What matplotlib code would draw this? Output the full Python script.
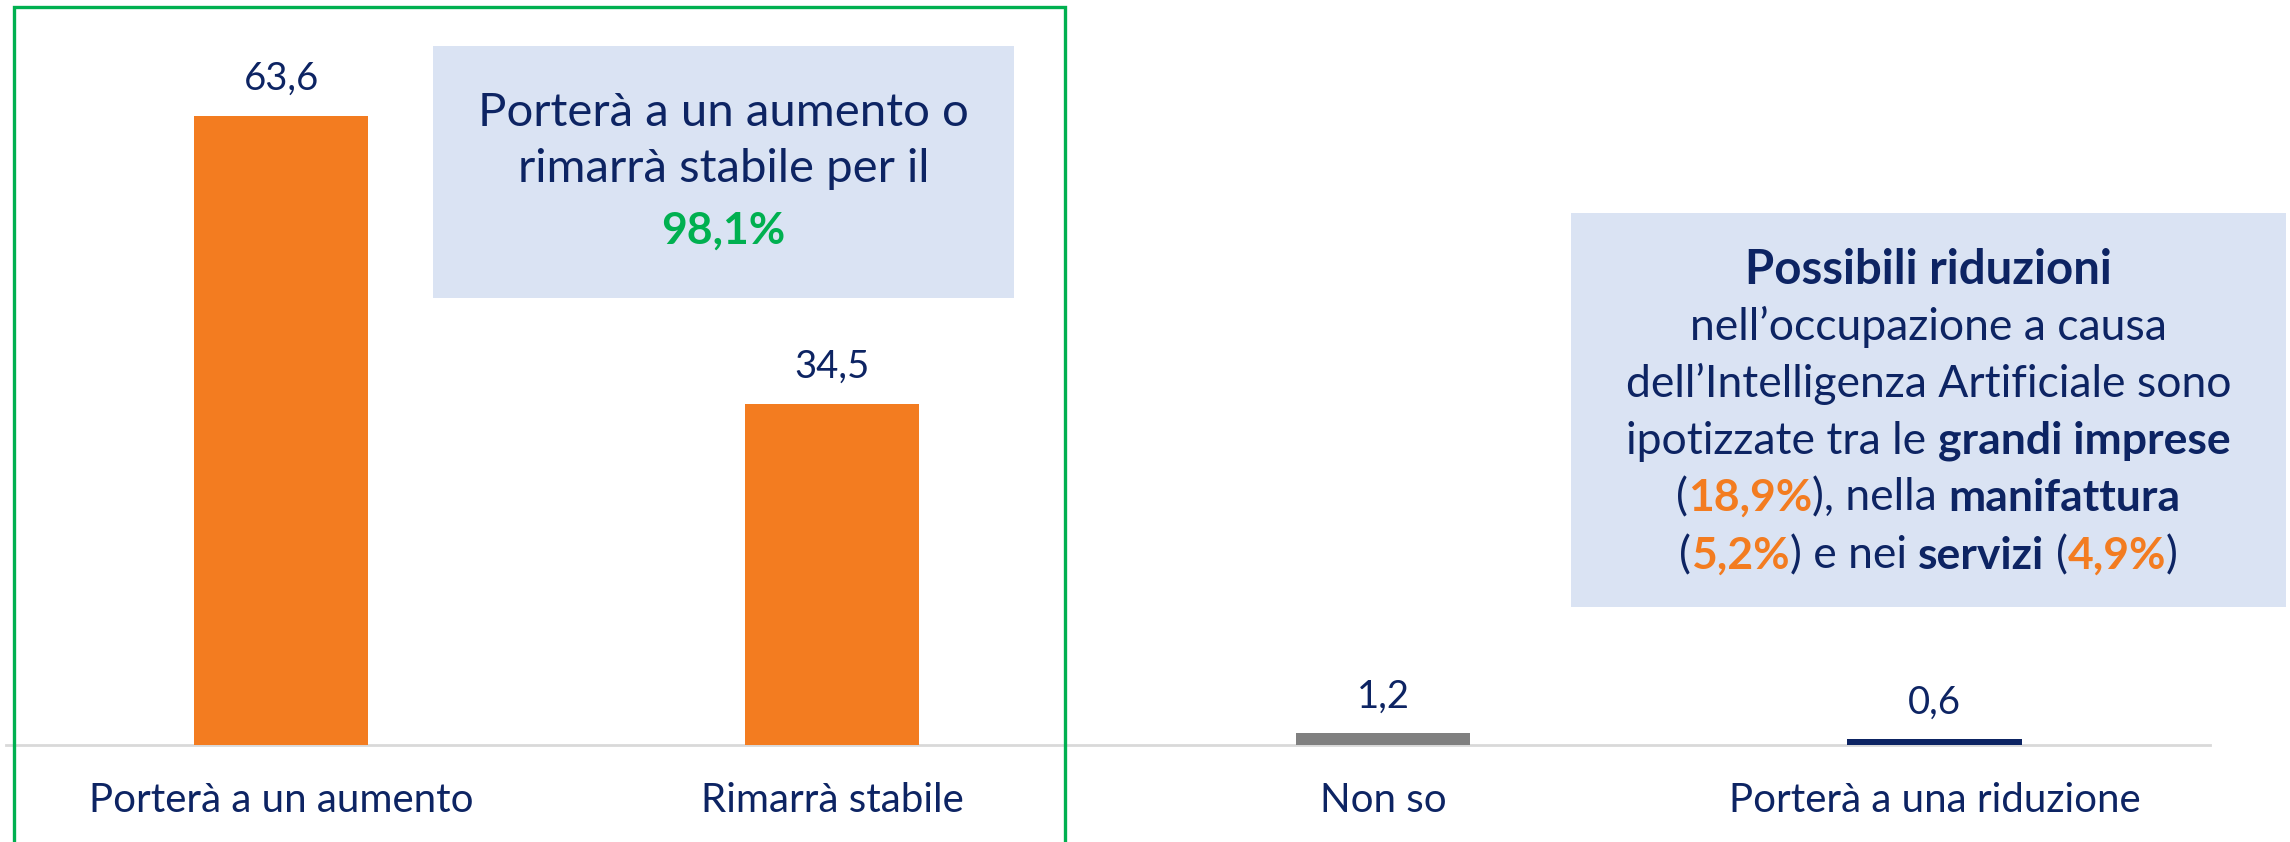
import matplotlib
matplotlib.use("Agg")
import matplotlib.pyplot as plt
from matplotlib.patches import Rectangle

plt.rcParams['font.family'] = ['Lato', 'DejaVu Sans']

categories = ["Porterà a un aumento", "Rimarrà stabile", "Non so", "Porterà a una riduzione"]
values = [63.6, 34.5, 1.2, 0.6]
value_labels = ["63,6", "34,5", "1,2", "0,6"]

NAVY = "#0D2463"
ORANGE = "#F37C20"
GREEN = "#00B050"
BOX = "#DAE3F3"
bar_colors = [ORANGE, ORANGE, "#808080", NAVY]

W, H = 2290, 842
fig = plt.figure(figsize=(W / 100, H / 100), dpi=100)

# axes placed so baseline sits at y=745px, x range covers 4 slots
ax = fig.add_axes([5.5 / W, (H - 745) / H, (2210 - 5.5) / W, 745 / H])
ax.set_xlim(-0.5, 3.5)
ax.set_ylim(0, 745 / 9.89)
x = range(len(categories))
ax.bar(x, values, width=0.316, color=bar_colors, zorder=3)
for xi, v, lab in zip(x, values, value_labels):
    ax.text(xi, v + 1.9, lab, ha="center", va="bottom", fontsize=27.5, color=NAVY)
for s in ["top", "right", "left"]:
    ax.spines[s].set_visible(False)
ax.spines["bottom"].set_color("#D9D9D9")
ax.spines["bottom"].set_linewidth(2)
ax.set_yticks([])
ax.set_xticks(list(x))
ax.set_xticklabels(categories, fontsize=29, color=NAVY)
ax.tick_params(axis="x", length=0, pad=27)


def px(xp, yp):
    return xp / W, 1 - yp / H


# green frame around the first two categories
fig.patches.append(Rectangle(px(14, 860), (1065 - 14) / W, (860 - 7) / H,
                             transform=fig.transFigure, fill=False,
                             edgecolor=GREEN, linewidth=2.4, zorder=5))

# boxes
fig.patches.append(Rectangle(px(433, 298), (1014 - 433) / W, (298 - 46) / H,
                             transform=fig.transFigure, facecolor=BOX,
                             edgecolor="none", zorder=4))
fig.patches.append(Rectangle(px(1571, 607), (2286 - 1571) / W, (607 - 213) / H,
                             transform=fig.transFigure, facecolor=BOX,
                             edgecolor="none", zorder=4))

renderer = fig.canvas.get_renderer()


def rich_line(segments, cx, cy, size):
    # segments: (text, bold, color, space_before)
    probe = fig.text(0, 0, "x x", fontsize=size)
    w2 = probe.get_window_extent(renderer).width
    probe.set_text("xx")
    space = w2 - probe.get_window_extent(renderer).width
    probe.remove()
    items = []
    total = 0
    for txt, bold, col, sp in segments:
        t = fig.text(0, 0, txt, fontsize=size, color=col,
                     fontweight="bold" if bold else "normal",
                     va="center", ha="left", zorder=6)
        w = t.get_window_extent(renderer).width
        gap = space if sp else 0
        items.append((t, total + gap))
        total += gap + w
    x0 = cx - total / 2
    for t, off in items:
        t.set_position(px(x0 + off, cy))


cx1 = (433 + 1014) / 2
rich_line([("Porterà a un aumento o", False, NAVY, False)], cx1, 113, 34)
rich_line([("rimarrà stabile per il", False, NAVY, False)], cx1, 169, 34)
rich_line([("98,1%", True, GREEN, False)], cx1, 231, 32)

cx2 = (1571 + 2286) / 2
box2_lines = [
    [("Possibili riduzioni", True, NAVY, False)],
    [("nell’occupazione a causa", False, NAVY, False)],
    [("dell’Intelligenza Artificiale sono", False, NAVY, False)],
    [("ipotizzate tra le", False, NAVY, False), ("grandi imprese", True, NAVY, True)],
    [("(", False, NAVY, False), ("18,9%", True, ORANGE, False), ("), nella", False, NAVY, False),
     ("manifattura", True, NAVY, True)],
    [("(", False, NAVY, False), ("5,2%", True, ORANGE, False), (") e nei", False, NAVY, False),
     ("servizi", True, NAVY, True), ("(", False, NAVY, True), ("4,9%", True, ORANGE, False),
     (")", False, NAVY, False)],
]
box2_y = [270, 327, 384, 441, 498, 556]
box2_size = [34, 32, 32, 32, 32, 32]
for segs, yy, sz in zip(box2_lines, box2_y, box2_size):
    rich_line(segs, cx2, yy, sz)

fig.savefig("out.png", dpi=100)
